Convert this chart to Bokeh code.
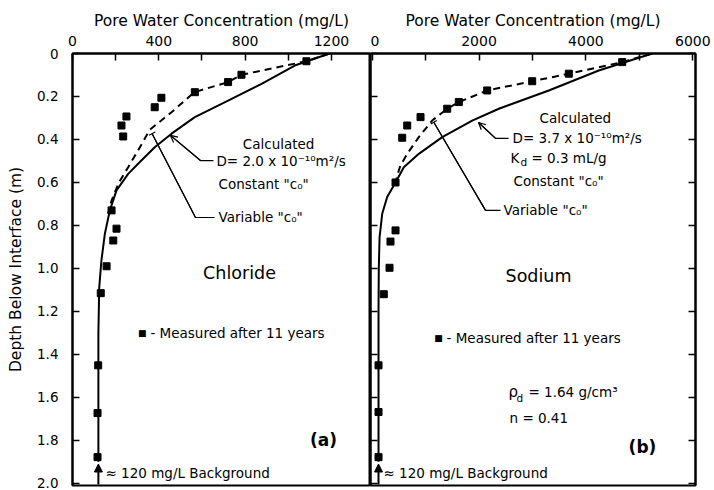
from bokeh.plotting import figure
from bokeh.layouts import row
from bokeh.models import Range1d, LinearAxis, FixedTicker, Label, Arrow, NormalHead, OpenHead, TeeHead
from bokeh.embed import file_html
from bokeh.resources import INLINE

FONT = "DejaVu Sans"
ANN = "13.5px"

# ---------------- data ----------------
depth_ticks = [0, 0.2, 0.4, 0.6, 0.8, 1.0, 1.2, 1.4, 1.6, 1.8, 2.0]
depth_labels = ["0", "0.2", "0.4", "0.6", "0.8", "1.0", "1.2", "1.4", "1.6", "1.8", "2.0"]

cl_ticks = [0, 400, 800, 1200]
cl_minor = [200, 600, 1000]
na_ticks = [0, 2000, 4000, 6000]
na_minor = [1000, 3000, 5000]

background = 120  # mg/L

# Chloride (a)
cl_meas_x = [1084, 783, 721, 567, 412, 381, 250, 227, 235, 181, 204, 189, 158, 131, 119, 116, 116]
cl_meas_d = [0.036, 0.099, 0.133, 0.18, 0.206, 0.25, 0.293, 0.335, 0.386, 0.73, 0.815, 0.87, 0.99, 1.115, 1.451, 1.673, 1.878]
cl_dash_x = [1191, 1084, 783, 721, 565, 459, 358, 304, 258, 215, 181, 165]
cl_dash_d = [0.0, 0.036, 0.099, 0.133, 0.18, 0.273, 0.355, 0.451, 0.529, 0.60, 0.684, 0.744]
cl_solid_x = [1191, 1030, 876, 721, 567, 459, 381, 304, 258, 204, 173, 150, 134, 124, 120, 120]
cl_solid_d = [0.0, 0.056, 0.141, 0.219, 0.296, 0.373, 0.436, 0.513, 0.56, 0.637, 0.73, 0.839, 0.963, 1.087, 1.3, 1.9]

# Sodium (b)
na_meas_x = [4679, 3680, 2995, 2153, 1622, 1405, 906, 657, 563, 438, 438, 344, 326, 219, 120, 120, 120]
na_meas_d = [0.04, 0.094, 0.129, 0.172, 0.226, 0.257, 0.296, 0.335, 0.392, 0.6, 0.823, 0.875, 0.997, 1.12, 1.451, 1.668, 1.878]
na_dash_x = [5240, 4679, 3680, 2995, 2153, 1622, 1405, 1124, 874, 657, 531, 500, 438]
na_dash_d = [0.0, 0.04, 0.094, 0.129, 0.172, 0.226, 0.257, 0.312, 0.389, 0.467, 0.521, 0.544, 0.6]
na_solid_x = [5240, 4241, 3306, 2371, 1873, 1312, 874, 593, 438, 282, 189, 140, 125, 120, 120]
na_solid_d = [0.0, 0.079, 0.172, 0.257, 0.312, 0.389, 0.467, 0.529, 0.6, 0.668, 0.746, 0.854, 1.0, 1.2, 1.9]


def style_x(ax, ticks, minor, label):
    ax.ticker = FixedTicker(ticks=ticks, minor_ticks=minor)
    ax.axis_label = label
    ax.axis_label_text_font = FONT
    ax.axis_label_text_font_size = "15.5px"
    ax.axis_label_text_font_style = "normal"
    ax.axis_label_text_color = "black"
    ax.axis_label_standoff = 3
    ax.major_label_text_font = FONT
    ax.major_label_text_font_size = "14px"
    ax.major_label_text_color = "black"
    ax.major_label_standoff = 8
    ax.major_tick_in = 7
    ax.major_tick_out = 0
    ax.minor_tick_in = 7
    ax.minor_tick_out = 0
    ax.axis_line_width = 2
    ax.major_tick_line_width = 1.5
    ax.minor_tick_line_width = 1.5


def style_y(ax, show_labels):
    ax.ticker = FixedTicker(ticks=depth_ticks)
    if show_labels:
        ax.major_label_overrides = dict(zip(depth_ticks, depth_labels))
        ax.major_label_standoff = 14
    else:
        ax.major_label_overrides = {t: "" for t in depth_ticks}
        ax.major_label_standoff = 0
    ax.major_label_text_font = FONT
    ax.major_label_text_font_size = "13.5px"
    ax.major_label_text_color = "black"
    ax.major_tick_in = 7
    ax.major_tick_out = 0
    ax.minor_tick_line_color = None
    ax.axis_line_width = 2
    ax.major_tick_line_width = 1.5


def lab(p, x, y, text, size=ANN, align="left", xo=0, yo=0, style="normal"):
    p.add_layout(Label(x=x, y=y, text=text, text_font=FONT, text_font_size=size,
                       text_align=align, text_baseline="middle", x_offset=xo, y_offset=yo,
                       text_color="black", text_font_style=style))


def leader(p, end_x, knee_x, knee_y, tip_x, tip_y, head):
    p.line(x=[end_x, knee_x, tip_x], y=[knee_y, knee_y, tip_y], line_color="black", line_width=1.2)
    p.add_layout(Arrow(end=head, x_start=knee_x, y_start=knee_y, x_end=tip_x, y_end=tip_y,
                       line_width=1.2, line_color="black"))


def make_fig(width, xr, left_border, right_border):
    p = figure(width=width, height=490, x_range=xr, y_range=Range1d(2.01, 0),
               output_backend="svg", toolbar_location=None, x_axis_location="above",
               min_border_left=left_border, min_border_right=right_border,
               min_border_top=53, min_border_bottom=5)
    p.grid.visible = False
    p.outline_line_color = "black"
    p.outline_line_width = 2
    p.background_fill_color = "white"
    p.border_fill_color = "white"
    return p


# ---------------- left panel: Chloride ----------------
p1 = make_fig(370, Range1d(0, 1381), 72, 0)
style_x(p1.xaxis[0], cl_ticks, cl_minor, "Pore Water Concentration (mg/L)")
style_y(p1.yaxis[0], True)
p1.yaxis[0].axis_label = "Depth Below Interface (m)"
p1.yaxis[0].axis_label_text_font = FONT
p1.yaxis[0].axis_label_text_font_size = "15.5px"
p1.yaxis[0].axis_label_text_font_style = "normal"
p1.yaxis[0].axis_label_text_color = "black"
p1.yaxis[0].axis_label_standoff = 9

p1.line(cl_solid_x, cl_solid_d, line_color="black", line_width=2)
p1.line(cl_dash_x, cl_dash_d, line_color="black", line_width=2, line_dash="7 5")
p1.scatter(cl_meas_x, cl_meas_d, marker="square", size=7, fill_color="black", line_color="black")

lab(p1, 955, 0.419, "Calculated", align="center")
lab(p1, 667, 0.502, "D= 2.0 x 10⁻¹⁰m²/s")
lab(p1, 677, 0.605, "Constant \"c₀\"")
lab(p1, 677, 0.763, "Variable \"c₀\"")
leader(p1, 653, 593, 0.498, 454, 0.381, OpenHead(size=7, line_width=1.2))
leader(p1, 658, 570, 0.763, 369, 0.373, TeeHead(size=7, line_width=1.2))
lab(p1, 774, 1.023, "Chloride", size="17.5px", align="center")
lab(p1, 323, 1.302, "■", size="9px", align="center")
lab(p1, 361, 1.302, "- Measured after 11 years")
lab(p1, 1163, 1.80, "(a)", size="17px", align="center", style="bold")
p1.add_layout(Arrow(end=NormalHead(size=8, fill_color="black", line_color="black"),
                    x_start=background, y_start=2.005, x_end=background, y_end=1.91,
                    line_width=2, line_color="black"))
lab(p1, 153, 1.953, "≈ 120 mg/L  Background")

# ---------------- right panel: Sodium ----------------
p2 = make_fig(344, Range1d(-30, 6050), 0, 19)
style_x(p2.xaxis[0], na_ticks, na_minor, "Pore Water Concentration (mg/L)")
style_y(p2.yaxis[0], False)
rax = LinearAxis()
style_y(rax, False)
p2.add_layout(rax, "right")

p2.line(na_solid_x, na_solid_d, line_color="black", line_width=2)
p2.line(na_dash_x, na_dash_d, line_color="black", line_width=2, line_dash="7 5")
p2.scatter(na_meas_x, na_meas_d, marker="square", size=7, fill_color="black", line_color="black")

lab(p2, 3802, 0.302, "Calculated", align="center")
lab(p2, 2627, 0.395, "D= 3.7 x 10⁻¹⁰m²/s")
lab(p2, 2589, 0.488, "K")
lab(p2, 2589, 0.488, "d", size="10.5px", xo=10, yo=-4)
lab(p2, 2589, 0.488, "= 0.3 mL/g", xo=21)
lab(p2, 2645, 0.591, "Constant \"c₀\"")
lab(p2, 2458, 0.730, "Variable \"c₀\"")
leader(p2, 2552, 2309, 0.395, 1991, 0.321, OpenHead(size=7, line_width=1.2))
leader(p2, 2402, 2122, 0.730, 1154, 0.320, TeeHead(size=7, line_width=1.2))
lab(p2, 3113, 1.033, "Sodium", size="17.5px", align="center")
lab(p2, 1242, 1.326, "■", size="9px", align="center")
lab(p2, 1392, 1.326, "- Measured after 11 years")
lab(p2, 2552, 1.577, "ρ", size="15px")
lab(p2, 2552, 1.577, "d", size="10.5px", xo=8, yo=-6)
lab(p2, 2552, 1.577, "= 1.64 g/cm³", xo=20)
lab(p2, 2571, 1.698, "n = 0.41")
lab(p2, 5058, 1.833, "(b)", size="17px", align="center", style="bold")
p2.add_layout(Arrow(end=NormalHead(size=8, fill_color="black", line_color="black"),
                    x_start=background, y_start=2.005, x_end=background, y_end=1.91,
                    line_width=2, line_color="black"))
lab(p2, 213, 1.953, "≈ 120 mg/L  Background")

layout = row(p1, p2)
open("out.html", "w").write(file_html(layout, INLINE))
